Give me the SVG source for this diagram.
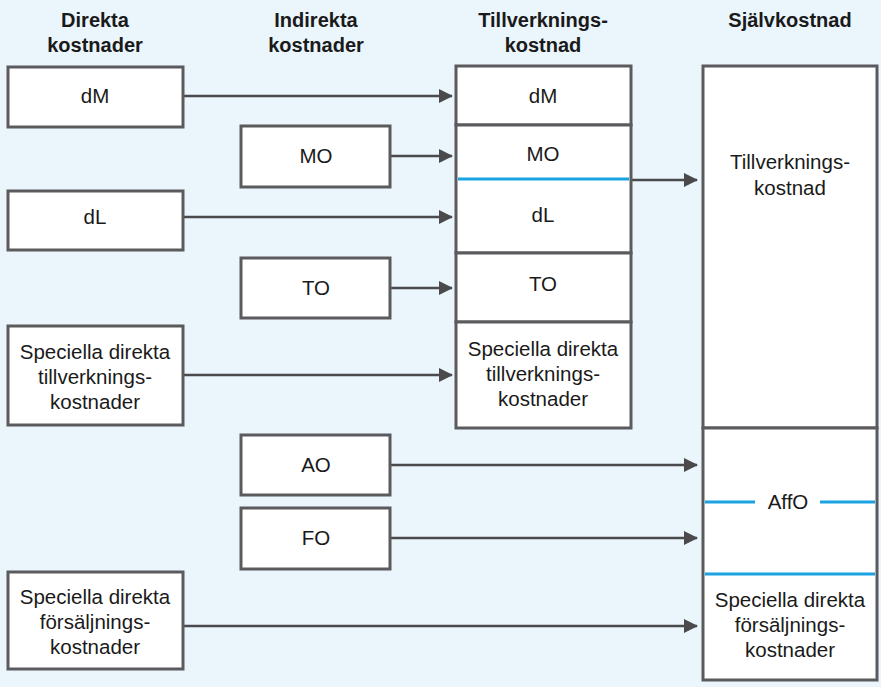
<svg xmlns="http://www.w3.org/2000/svg" width="881" height="687" viewBox="0 0 881 687">
<defs>
<marker id="ah" markerWidth="14" markerHeight="14" refX="13" refY="7" orient="auto" markerUnits="userSpaceOnUse">
<path d="M0,0 L14,7 L0,14 Z" fill="#4a4a4d"/>
</marker>
<style>
.box{fill:#ffffff;stroke:#5b5b5e;stroke-width:3}
.t{font-family:"Liberation Sans",Arial,sans-serif;font-size:20.5px;fill:#1a1a1a;text-anchor:middle}
.h{font-family:"Liberation Sans",Arial,sans-serif;font-size:20px;font-weight:bold;fill:#1a1a1a;text-anchor:middle}
.c{stroke:#4a4a4d;stroke-width:2.5;fill:none;marker-end:url(#ah)}
.b{stroke:#1aa3e0;stroke-width:3}
</style>
</defs>
<rect x="0" y="0" width="881" height="687" fill="#ebf5fc"/>
<g id="headers">
<text class="h" x="95" y="27">Direkta</text>
<text class="h" x="95" y="52">kostnader</text>
<text class="h" x="316" y="27">Indirekta</text>
<text class="h" x="316" y="52">kostnader</text>
<text class="h" x="543" y="27">Tillverknings-</text>
<text class="h" x="543" y="52">kostnad</text>
<text class="h" x="790" y="27">Självkostnad</text>
</g>
<g id="connectors">
<line class="c" x1="183" y1="96" x2="452" y2="96"/>
<line class="c" x1="390" y1="156" x2="452" y2="156"/>
<line class="c" x1="183" y1="217" x2="452" y2="217"/>
<line class="c" x1="390" y1="288" x2="452" y2="288"/>
<line class="c" x1="183" y1="375" x2="452" y2="375"/>
<line class="c" x1="631" y1="180" x2="697" y2="180"/>
<line class="c" x1="390" y1="465" x2="697" y2="465"/>
<line class="c" x1="390" y1="538" x2="697" y2="538"/>
<line class="c" x1="183" y1="626" x2="697" y2="626"/>
</g>
<g id="d-dM"><rect class="box" x="8" y="67" width="175" height="60"/><text class="t" x="95" y="103">dM</text></g>
<g id="d-dL"><rect class="box" x="8" y="191" width="175" height="59"/><text class="t" x="95" y="224">dL</text></g>
<g id="d-sdt"><rect class="box" x="8" y="326" width="175" height="99"/>
<text class="t" x="95" y="359">Speciella direkta</text><text class="t" x="95" y="384">tillverknings-</text><text class="t" x="95" y="409">kostnader</text></g>
<g id="d-sdf"><rect class="box" x="8" y="572" width="175" height="97"/>
<text class="t" x="95" y="604">Speciella direkta</text><text class="t" x="95" y="629">försäljnings-</text><text class="t" x="95" y="654">kostnader</text></g>
<g id="i-MO"><rect class="box" x="241" y="126" width="149" height="61"/><text class="t" x="316" y="163">MO</text></g>
<g id="i-TO"><rect class="box" x="241" y="258" width="149" height="60"/><text class="t" x="316" y="295">TO</text></g>
<g id="i-AO"><rect class="box" x="241" y="435" width="149" height="60"/><text class="t" x="316" y="472">AO</text></g>
<g id="i-FO"><rect class="box" x="241" y="508" width="149" height="61"/><text class="t" x="316" y="545">FO</text></g>
<g id="tk">
<rect class="box" x="456" y="66" width="175" height="59"/><text class="t" x="543" y="103">dM</text>
<rect class="box" x="456" y="125" width="175" height="128"/><text class="t" x="543" y="161">MO</text>
<line class="b" x1="458" y1="179" x2="629" y2="179"/><text class="t" x="543" y="222">dL</text>
<rect class="box" x="456" y="253" width="175" height="69"/><text class="t" x="543" y="291">TO</text>
<rect class="box" x="456" y="322" width="175" height="106"/>
<text class="t" x="543" y="356">Speciella direkta</text><text class="t" x="543" y="381">tillverknings-</text><text class="t" x="543" y="406">kostnader</text>
</g>
<g id="sk">
<rect class="box" x="703" y="66" width="174" height="362"/>
<text class="t" x="790" y="169">Tillverknings-</text><text class="t" x="790" y="195">kostnad</text>
<rect class="box" x="703" y="428" width="174" height="252"/>
<line class="b" x1="705" y1="502" x2="755" y2="502"/><line class="b" x1="820" y1="502" x2="875" y2="502"/>
<text class="t" x="788" y="509">AffO</text>
<line class="b" x1="705" y1="574" x2="875" y2="574"/>
<text class="t" x="790" y="607">Speciella direkta</text><text class="t" x="790" y="632">försäljnings-</text><text class="t" x="790" y="657">kostnader</text>
</g>
</svg>
